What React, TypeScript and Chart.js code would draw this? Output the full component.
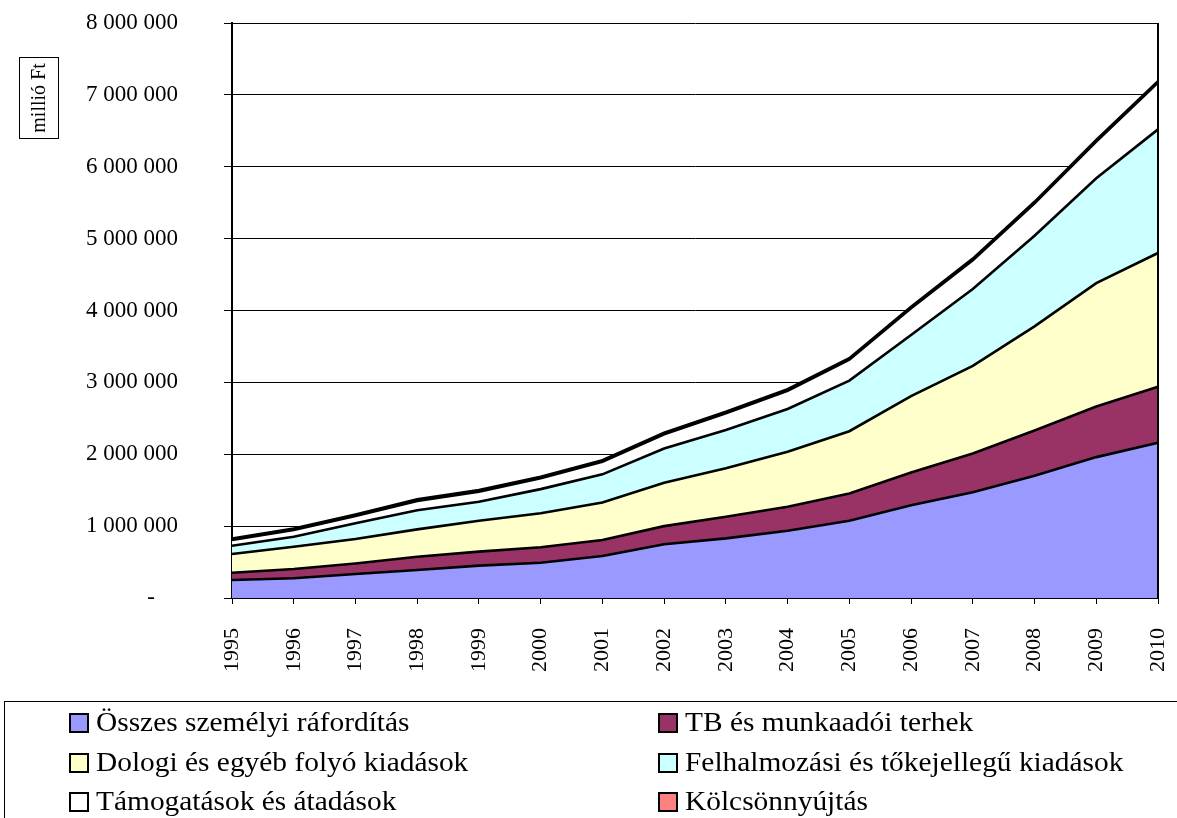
import { useEffect, useRef } from "react";
import { Chart, registerables } from "chart.js";
Chart.register(...registerables);

const years = ["1995","1996","1997","1998","1999","2000","2001","2002","2003","2004","2005","2006","2007","2008","2009","2010"];
const szemelyi = [250000,274000,334000,390000,450000,490000,584000,747000,830000,936000,1075000,1290000,1470000,1700000,1960000,2160000];
const tbTerhek = [102000,129000,146000,185000,195000,215000,223000,253000,300000,334000,380000,455000,540000,630000,705000,780000];
const dologi = [260000,311000,340000,380000,430000,475000,523000,604000,674000,765000,865000,1065000,1220000,1450000,1715000,1860000];
const felhalmozasi = [115000,139000,220000,265000,265000,335000,390000,476000,533000,595000,705000,850000,1070000,1260000,1460000,1720000];
const tamogatasok = [80000,93000,100000,130000,140000,150000,176000,197000,232000,253000,290000,370000,400000,450000,510000,650000];
const kolcson = [22000,22000,22000,22000,22000,22000,22000,22000,22000,22000,22000,22000,22000,22000,22000,22000];

const seriesNames = [
  "Összes személyi ráfordítás",
  "TB és munkaadói terhek",
  "Dologi és egyéb folyó kiadások",
  "Felhalmozási és tőkejellegű kiadások",
  "Támogatások és átadások",
  "Kölcsönnyújtás",
];
const seriesColors = ["#9999FF", "#993366", "#FFFFCC", "#CCFFFF", "#FFFFFF", "#FF8080"];
const yTitle = "millió Ft";

const FONT = "'Liberation Serif', 'Times New Roman', serif";

function fmt(v: number): string {
  const pad = "\u2007\u2007\u2007\u2007";
  if (v === 0) return "-" + pad + "\u2007\u2007";
  return Math.round(v).toString().replace(/\B(?=(\d{3})+(?!\d))/g, " ") + pad;
}

const extrasPlugin = {
  id: "extras",
  afterDraw(chart: any) {
    const ctx = chart.ctx;
    const ca = chart.chartArea;
    ctx.save();
    ctx.strokeStyle = "#000";
    ctx.lineWidth = 2;
    ctx.beginPath();
    ctx.moveTo(ca.right, ca.top);
    ctx.lineTo(ca.right, ca.bottom);
    ctx.stroke();

    ctx.lineWidth = 1;
    ctx.strokeRect(19.5, 57.5, 39, 81);
    ctx.translate(39, 98);
    ctx.rotate(-Math.PI / 2);
    ctx.fillStyle = "#000";
    ctx.font = `20px ${FONT}`;
    ctx.textAlign = "center";
    ctx.textBaseline = "middle";
    ctx.fillText(yTitle, 0, 1);
    ctx.restore();

    ctx.save();
    ctx.strokeStyle = "#000";
    ctx.lineWidth = 1;
    ctx.strokeRect(4.5, 701.5, 1300, 300);
    const colX = [69, 658];
    const rowY = [723, 763, 802];
    ctx.font = `28px ${FONT}`;
    ctx.textBaseline = "middle";
    ctx.textAlign = "left";
    for (let i = 0; i < seriesNames.length; i++) {
      const c = i % 2;
      const r = Math.floor(i / 2);
      const x = colX[c];
      const y = rowY[r];
      ctx.fillStyle = seriesColors[i];
      ctx.fillRect(x, y - 10, 20, 20);
      ctx.lineWidth = 2;
      ctx.strokeRect(x + 1, y - 9, 18, 18);
      ctx.fillStyle = "#000";
      ctx.save();
      ctx.translate(x + 27, y + 1);
      ctx.scale(1.05, 1);
      ctx.fillText(seriesNames[i], 0, 0);
      ctx.restore();
    }
    ctx.restore();
  },
};

export default function App() {
  const ref = useRef<HTMLCanvasElement>(null);
  useEffect(() => {
    if (!ref.current) return;
    const values = [szemelyi, tbTerhek, dologi, felhalmozasi, tamogatasok, kolcson];
    const chart = new Chart(ref.current, {
      type: "line",
      data: {
        labels: years,
        datasets: values.map((d, i) => ({
          label: seriesNames[i],
          data: d,
          backgroundColor: seriesColors[i],
          borderColor: "#000",
          borderWidth: 2.6,
          pointRadius: 0,
          tension: 0,
          fill: i === 0 ? "origin" : "-1",
        })),
      },
      options: {
        responsive: false,
        animation: false,
        layout: { padding: { left: 0, top: 23, right: 19, bottom: 120 } },
        plugins: { legend: { display: false }, tooltip: { enabled: false } },
        scales: {
          x: {
            offset: false,
            grid: { drawOnChartArea: false, drawTicks: true, tickLength: 6, color: "#000" },
            border: { color: "#000", width: 2 },
            ticks: {
              minRotation: 90,
              maxRotation: 90,
              autoSkip: false,
              padding: 24,
              color: "#000",
              font: { family: FONT, size: 22 },
            },
            afterFit: (s: any) => {
              s.height = 100;
              s.paddingLeft = 0;
              s.paddingRight = 0;
            },
          },
          y: {
            stacked: true,
            min: 0,
            max: 8000000,
            ticks: {
              stepSize: 1000000,
              padding: 0,
              color: "#000",
              font: { family: FONT, size: 23 },
              callback: (v: any) => fmt(Number(v)),
            },
            grid: { color: "#000", lineWidth: 1, tickLength: 8, drawTicks: true },
            border: { color: "#000", width: 2 },
            afterFit: (s: any) => {
              s.width = 232;
              s.paddingTop = 0;
              s.paddingBottom = 0;
            },
          },
        },
      },
      plugins: [extrasPlugin],
    });
    return () => chart.destroy();
  }, []);
  return (
    <div style={{ position: "absolute", left: 0, top: 0, width: 1177, height: 818, background: "#fff" }}>
      <canvas ref={ref} width={1177} height={818} />
    </div>
  );
}
